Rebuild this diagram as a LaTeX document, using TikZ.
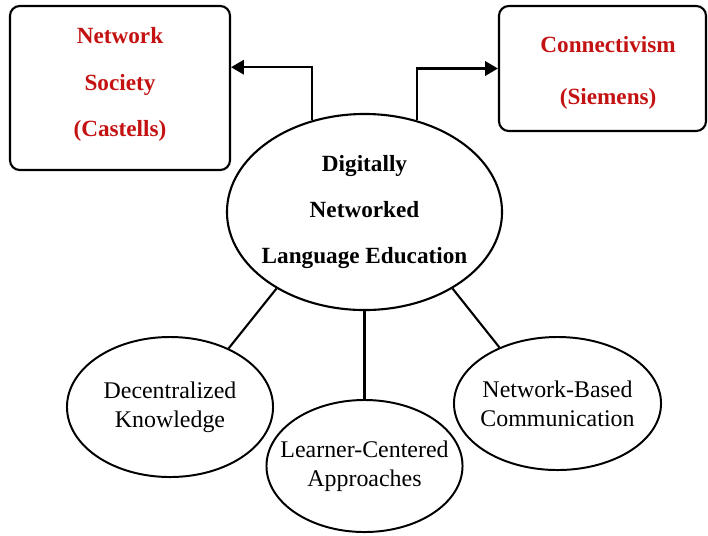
\documentclass[tikz,border=0pt]{standalone}
\usepackage{fontspec}
\setmainfont{Liberation Serif}
\usetikzlibrary{positioning,arrows.meta,shapes.geometric}
\definecolor{TheoryRed}{RGB}{196,18,18}
\tikzset{
  flow/.style={-{Triangle[length=3.2mm,width=3.6mm]},line width=1.5pt},
  link/.style={line width=1.5pt},
  theorybox/.style={draw,rounded corners=7pt,line width=1.5pt},
  theorytext/.style={align=center,text=TheoryRed,
    font=\fontsize{16.5}{33}\selectfont\bfseries},
  hub/.style={ellipse,draw,line width=1.5pt,inner sep=0pt},
  hubtext/.style={align=center,font=\fontsize{16.5}{32.6}\selectfont\bfseries},
  bubble/.style={ellipse,draw,line width=1.4pt,inner sep=0pt},
  bubbletext/.style={align=center,font=\fontsize{17}{20.6}\selectfont}
}
\begin{document}
\begin{tikzpicture}[x=0.025cm,y=-0.025cm]
  \useasboundingbox (0,0) rectangle (708,535);
  % two theory boxes at the top
  \node[theorybox,minimum width=5.5cm,minimum height=4.1cm,
    label={[theorytext,yshift=0.08cm]center:{Network\\Society\\(Castells)}}] (castells) at (120,88) {};
  \node[theorybox,minimum width=5.175cm,minimum height=3.125cm,
    label={[theorytext,font=\fontsize{16.5}{37}\selectfont\bfseries,xshift=0.14cm,yshift=-0.12cm]
      center:{Connectivism\\(Siemens)}}] (siemens) at (602.5,68.5) {};
  % central ellipse
  \node[hub,minimum width=6.875cm,minimum height=4.9cm,
    label={[hubtext]center:{Digitally\\Networked\\Language Education}}] (dnle) at (364.5,212) {};
  % three features below
  \node[bubble,minimum width=5.15cm,minimum height=3.5cm,
    label={[bubbletext]center:{Decentralized\\Knowledge}}] (decentral) at (170,407) {};
  \node[bubble,minimum width=4.9cm,minimum height=3.3cm,
    label={[bubbletext]center:{Learner-Centered\\Approaches}}] (learner) at (364.5,466) {};
  \node[bubble,minimum width=5.175cm,minimum height=3.325cm,
    label={[bubbletext]center:{Network-Based\\Communication}}] (netcomm) at (557.5,403.5) {};
  \draw[flow] (dnle.120) |- ([yshift=0.52cm]castells.east);
  \draw[flow] (dnle.60) |- (siemens.west);
  \draw[link] (dnle.221) -- (decentral.45);
  \draw[link] (dnle.south) -- (learner.north);
  \draw[link] (dnle.319.5) -- (netcomm.136.5);
\end{tikzpicture}
\end{document}
